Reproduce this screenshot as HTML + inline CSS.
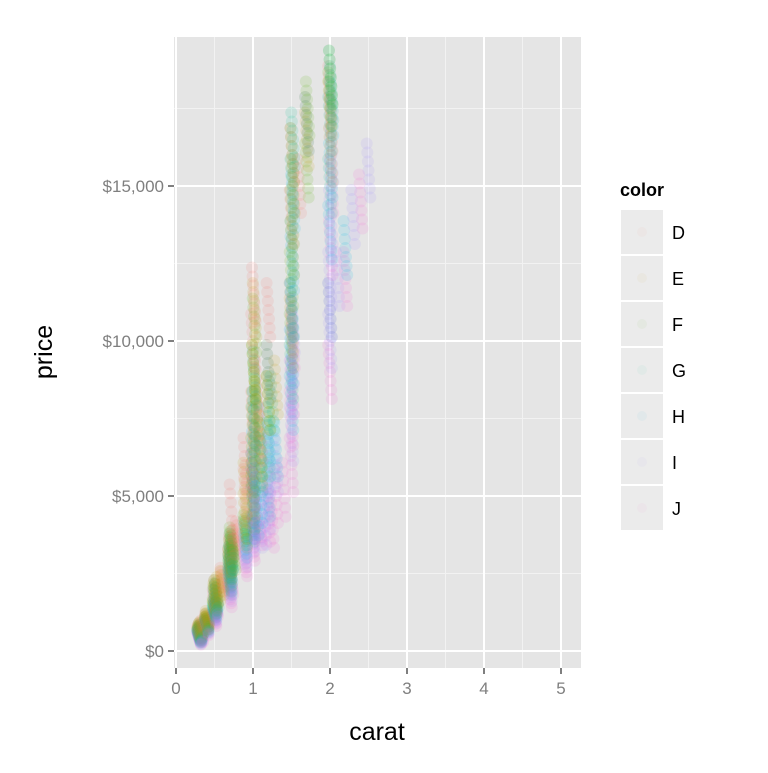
<!DOCTYPE html>
<html><head><meta charset="utf-8"><style>
body{margin:0;background:#fff;font-family:"Liberation Sans",Arial,sans-serif}
svg text{font-family:"Liberation Sans",Arial,sans-serif}
</style></head><body>
<svg id="chart" width="768" height="768">
<rect width="768" height="768" fill="#fff"/>
<g id="grid"></g><g id="pts"></g><g id="axes"></g><g id="legend"></g>
<text x="377" y="740" font-size="25" text-anchor="middle" fill="#000">carat</text>
<text transform="translate(52,352) rotate(-90)" font-size="25" text-anchor="middle" fill="#000">price</text>
</svg>
<script>
const xTicks=[0,1,2,3,4,5];
const xMinor=[0.5,1.5,2.5,3.5,4.5];
const yTicks=[0,5000,10000,15000];
const yTickLabels=["$0","$5,000","$10,000","$15,000"];
const yMinor=[2500,7500,12500,17500];
const colorNames=["D","E","F","G","H","I","J"];
const colorHex=["#F8766D","#C49A00","#53B400","#00C094","#00B6EB","#A58AFF","#FB61D7"];
const caratD=[0.3,0.32,0.35,0.4,0.5,0.52,0.6,0.7,0.71,0.75,0.8,0.9,1.0,1.0,1.0,1.01,1.02,1.1,1.2,1.5,1.5,1.51,1.6,1.7,2.0,2.01,1.2,0.9,1.05,0.72];
const priceD=[600,700,800,1000,1600,1900,2300,2900,3300,3500,3800,5000,5500,7500,10000,11500,6500,7000,9000,11000,14000,16000,15000,17000,18000,17000,11000,6000,8500,4500];
const caratE=[0.3,0.31,0.33,0.4,0.41,0.5,0.51,0.55,0.7,0.71,0.72,0.9,1.0,1.0,1.01,1.02,1.1,1.2,1.5,1.51,1.52,1.7,2.0,2.01,0.9,1.05,1.3,0.6];
const priceE=[550,650,750,900,1100,1500,1800,2000,2700,3000,3400,4200,5200,7000,9000,11000,6200,8000,10500,13000,15000,16500,17500,16000,5200,7800,8500,2200];
const caratF=[0.3,0.31,0.32,0.4,0.41,0.5,0.51,0.52,0.7,0.7,0.71,0.72,0.9,1.0,1.0,1.01,1.01,1.02,1.1,1.2,1.5,1.5,1.51,1.51,1.7,1.71,2.0,2.01,1.03,0.75];
const priceF=[500,600,700,900,1000,1400,1700,1900,2500,2900,3200,3600,4000,4800,6000,7500,9000,10500,6500,8000,10000,12000,14000,16000,15500,17500,17800,18500,8300,3000];
const caratG=[0.3,0.31,0.33,0.4,0.5,0.51,0.53,0.7,0.7,0.71,0.72,0.9,1.0,1.0,1.01,1.02,1.1,1.2,1.2,1.5,1.5,1.51,1.51,1.52,1.7,2.0,2.0,2.01,2.02,1.25];
const priceG=[480,560,650,850,1300,1600,1800,2300,2700,3000,3400,3800,4400,5500,7000,8800,6000,6500,9000,9000,11000,13000,15000,16500,17000,15000,17000,18500,18000,8000];
const caratH=[0.3,0.31,0.4,0.5,0.51,0.7,0.71,0.72,0.9,1.0,1.0,1.01,1.02,1.1,1.2,1.2,1.3,1.5,1.5,1.51,1.51,1.52,2.0,2.0,2.01,2.02,2.2,1.05];
const priceH=[450,520,800,1200,1500,2200,2600,3000,3400,4000,5000,6200,7500,5000,5200,7000,6500,8000,9500,11000,12500,14500,11000,13500,15500,17500,13000,4600];
const caratI=[0.3,0.32,0.4,0.5,0.52,0.7,0.71,0.9,1.0,1.0,1.01,1.1,1.2,1.2,1.3,1.5,1.5,1.51,1.52,2.0,2.0,2.01,2.02,2.1,2.3,2.5,1.15];
const priceI=[420,500,750,1100,1400,2000,2400,3100,3600,4500,5500,4200,4800,6000,6000,7000,8500,9500,10500,10000,12000,14000,16000,12000,14000,15500,4300];
const caratJ=[0.3,0.33,0.4,0.5,0.52,0.7,0.72,0.9,1.0,1.01,1.02,1.1,1.2,1.3,1.5,1.5,1.51,1.52,2.0,2.0,2.01,2.02,2.2,2.4,1.25,1.4];
const priceJ=[400,480,700,1000,1300,1800,2200,2800,3300,4000,5000,3800,4400,5000,6000,7500,8500,10000,9000,11000,13000,15000,12000,14500,4200,5200];
const caratAll=[caratD,caratE,caratF,caratG,caratH,caratI,caratJ];
const priceAll=[priceD,priceE,priceF,priceG,priceH,priceI,priceJ];

const L=174,R=581,T=37,B=668;
const xs=v=>176+v*77;
const ys=v=>651-v*0.031;
const NS="http://www.w3.org/2000/svg";
function mk(t,a,p){const e=document.createElementNS(NS,t);for(const k in a)e.setAttribute(k,a[k]);p.appendChild(e);return e;}
const grid=document.getElementById('grid'),pts=document.getElementById('pts'),axes=document.getElementById('axes'),leg=document.getElementById('legend');
const bg=mk('rect',{x:L,y:T,width:R-L,height:B-T,fill:'#E5E5E5'},grid);


xMinor.forEach(v=>{const l=mk('line',{x1:xs(v),x2:xs(v),y1:T,y2:B,stroke:'#F2F2F2','stroke-width':1},grid);

});
yMinor.forEach(v=>{const l=mk('line',{x1:L,x2:R,y1:ys(v),y2:ys(v),stroke:'#F2F2F2','stroke-width':1},grid);

});
xTicks.forEach(v=>{const l=mk('line',{x1:xs(v),x2:xs(v),y1:T,y2:B,stroke:'#fff','stroke-width':2},grid);


const tk=mk('line',{x1:xs(v),x2:xs(v),y1:B,y2:B+6,stroke:'#7F7F7F','stroke-width':2},axes);


const t=mk('text',{x:xs(v),y:B+26,'font-size':17,'text-anchor':'middle',fill:'#7F7F7F'},axes);t.textContent=v;

});
yTicks.forEach((v,i)=>{const l=mk('line',{x1:L,x2:R,y1:ys(v),y2:ys(v),stroke:'#fff','stroke-width':2},grid);


const tk=mk('line',{x1:L-6,x2:L,y1:ys(v),y2:ys(v),stroke:'#7F7F7F','stroke-width':2},axes);


const t=mk('text',{x:L-10,y:ys(v)+6,'font-size':17,'text-anchor':'end',fill:'#7F7F7F'},axes);t.textContent=yTickLabels[i];

});
const offs=[-3,-2,-1,0,1,2,3];
offs.forEach(o=>{
caratAll.forEach((cs,ci)=>{cs.forEach((c,j)=>{
const p=priceAll[ci][j];
const step=p>4000?9:(p>1500?4:2);
const e=mk('circle',{cx:xs(c)+o*0.6,cy:ys(p)+o*step,r:6,fill:colorHex[ci],'fill-opacity':0.13},pts);

});});});
const lt=mk('text',{x:620,y:196,'font-size':18,'font-weight':'bold',fill:'#000'},leg);lt.textContent='color';


colorNames.forEach((n,i)=>{const y=209+i*46;
const k=mk('rect',{x:620,y:y,width:44,height:46,fill:'#EBEBEB',stroke:'#fff','stroke-width':2},leg);


mk('circle',{cx:642,cy:y+23,r:5,fill:colorHex[i],'fill-opacity':0.04},leg);
const t=mk('text',{x:672,y:y+30,'font-size':18,fill:'#000'},leg);t.textContent=n;

});
</script>
</body></html>
